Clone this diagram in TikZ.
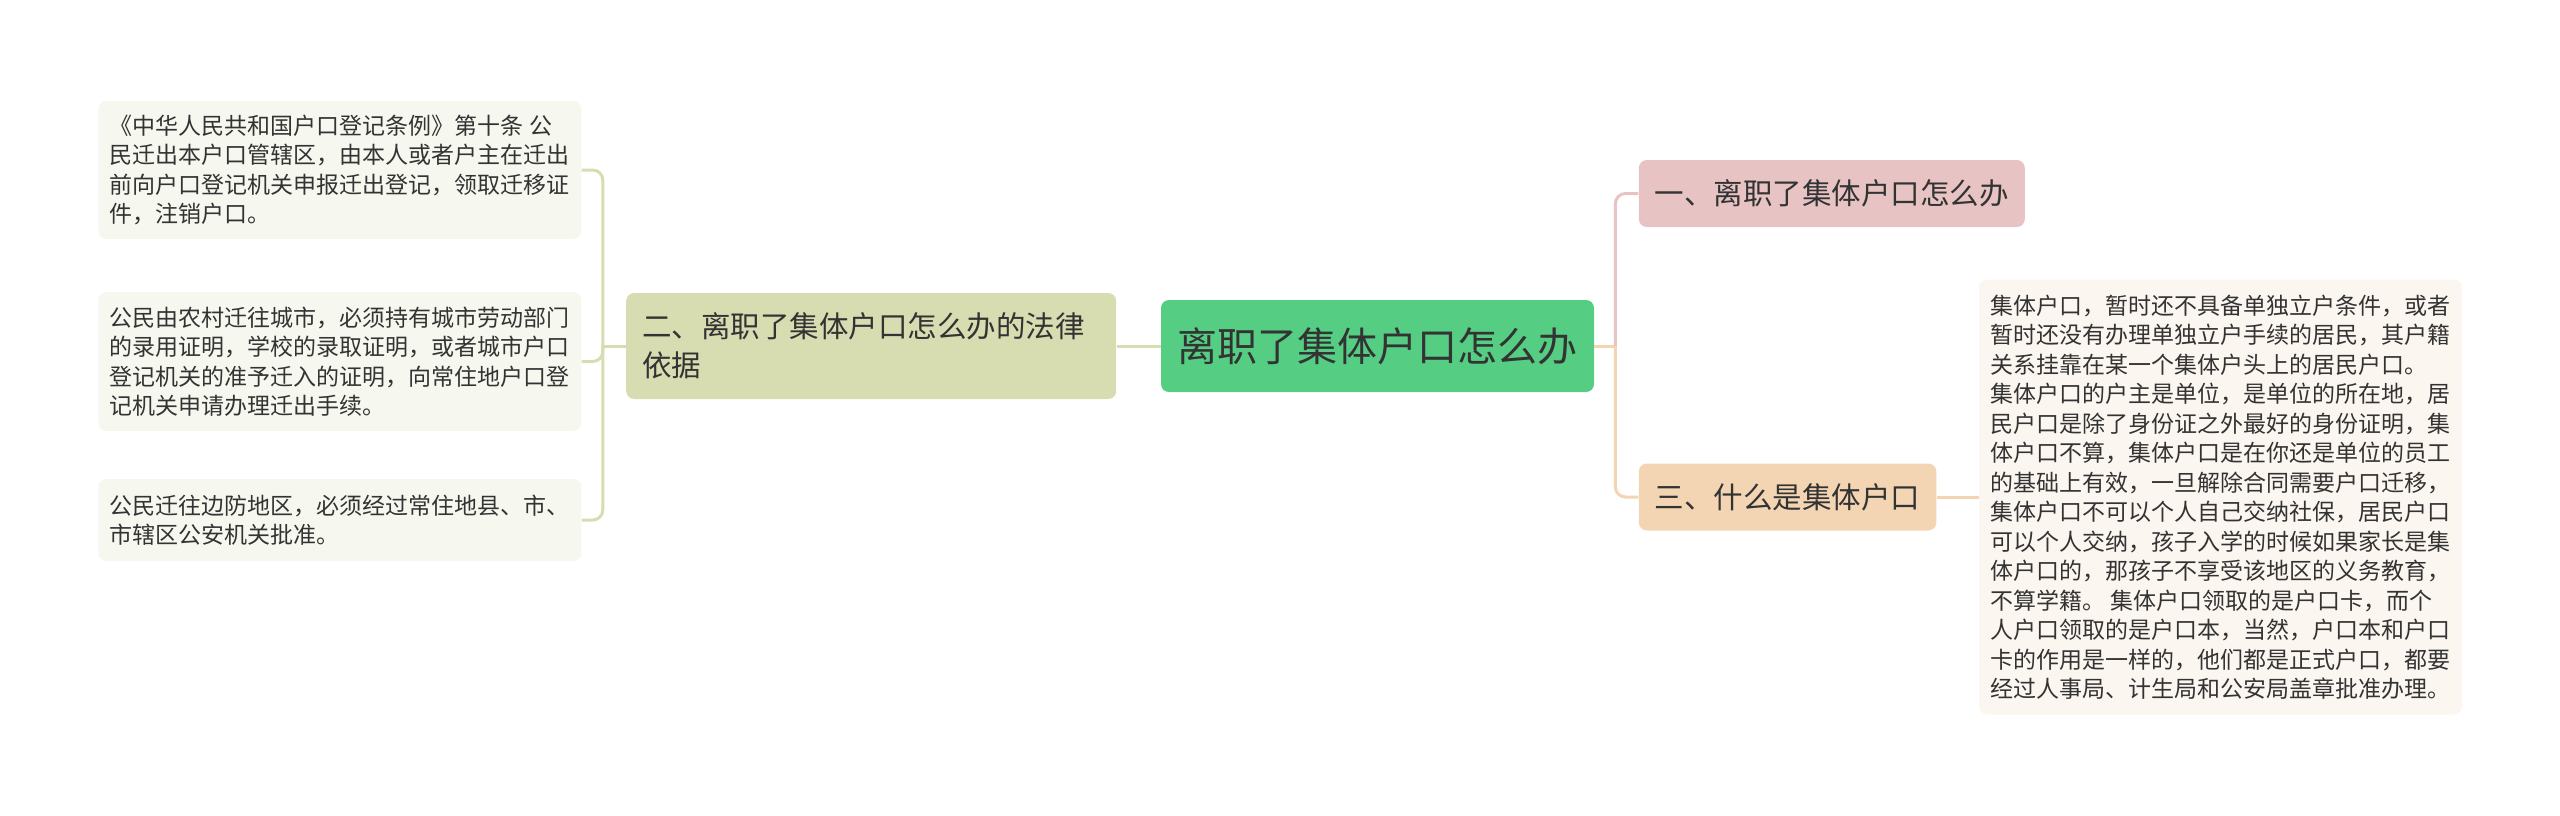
\documentclass[tikz,border=0pt]{standalone}
\usepackage{fontspec}
\setmainfont{Noto Sans CJK SC}
\usepackage{xcolor}
\usetikzlibrary{positioning}

\definecolor{rootgreen}{HTML}{55CD82}
\definecolor{lawolive}{HTML}{D8DCB1}
\definecolor{lawleaf}{HTML}{F6F7EF}
\definecolor{howpink}{HTML}{E7C3C3}
\definecolor{whatpeach}{HTML}{F3D5B4}
\definecolor{whatleaf}{HTML}{FCF6F0}
\definecolor{textgray}{HTML}{333333}

\begin{document}
\begin{tikzpicture}[x=1pt, y=1pt,
    box/.style={rounded corners=4pt, inner xsep=8pt, inner ysep=0pt, text=textgray, align=left},
    rootbox/.style={box, fill=rootgreen, minimum width=216.5pt, minimum height=46pt, font=\fontsize{20pt}{24pt}\selectfont},
    topic/.style={box, fill=#1, minimum height=33.5pt, font=\fontsize{14.75pt}{19.5pt}\selectfont},
    leaf/.style={box, fill=#1, inner xsep=5.75pt, font=\fontsize{11.5pt}{14.75pt}\selectfont},
    link/.style={line width=1.5pt, draw=#1, rounded corners=5pt}]

    \useasboundingbox (0,0) rectangle (1280,-407.5);

    \node[rootbox] (root) at (688.75,-173) {离职了集体户口怎么办};

    \node[topic=lawolive, text width=229pt, minimum height=53pt, left=22pt of root] (law)
        {二、离职了集体户口怎么办的法律\\依据};
    \node[topic=howpink, right=22pt of root, yshift=76.25pt] (how) {一、离职了集体户口怎么办};
    \node[topic=whatpeach, right=22pt of root, yshift=-75.5pt] (what) {三、什么是集体户口};

    \node[leaf=lawleaf, minimum height=69pt, left=22pt of law, yshift=88pt] (rule)
        {《中华人民共和国户口登记条例》第十条 公\\
         民迁出本户口管辖区，由本人或者户主在迁出\\
         前向户口登记机关申报迁出登记，领取迁移证\\
         件，注销户口。};
    \node[leaf=lawleaf, minimum height=69.5pt, left=22pt of law, yshift=-7.75pt] (city)
        {公民由农村迁往城市，必须持有城市劳动部门\\
         的录用证明，学校的录取证明，或者城市户口\\
         登记机关的准予迁入的证明，向常住地户口登\\
         记机关申请办理迁出手续。};
    \node[leaf=lawleaf, minimum height=41pt, left=22pt of law, yshift=-87pt] (border)
        {公民迁往边防地区，必须经过常住地县、市、\\
         市辖区公安机关批准。};

    \node[leaf=whatleaf, minimum height=217.5pt, right=21pt of what] (define)
        {集体户口，暂时还不具备单独立户条件，或者\\
         暂时还没有办理单独立户手续的居民，其户籍\\
         关系挂靠在某一个集体户头上的居民户口。\\
         集体户口的户主是单位，是单位的所在地，居\\
         民户口是除了身份证之外最好的身份证明，集\\
         体户口不算，集体户口是在你还是单位的员工\\
         的基础上有效，一旦解除合同需要户口迁移，\\
         集体户口不可以个人自己交纳社保，居民户口\\
         可以个人交纳，孩子入学的时候如果家长是集\\
         体户口的，那孩子不享受该地区的义务教育，\\
         不算学籍。 集体户口领取的是户口卡，而个\\
         人户口领取的是户口本，当然，户口本和户口\\
         卡的作用是一样的，他们都是正式户口，都要\\
         经过人事局、计生局和公安局盖章批准办理。};

    \coordinate[left=11.5pt of law] (lawjoin);
    \coordinate[right=10.5pt of root] (rootjoin);

    \draw[link=lawolive] (root) -- (law);
    \draw[link=lawolive] (law) -- (lawjoin);
    \draw[link=lawolive] (lawjoin) |- (rule.east);
    \draw[link=lawolive] (lawjoin) |- (city.east);
    \draw[link=lawolive] (lawjoin) |- (border.east);

    \draw[link=whatpeach] (root) -- (rootjoin);
    \draw[link=howpink] (rootjoin) |- (how.west);
    \draw[link=whatpeach] (rootjoin) |- (what.west);
    \draw[link=whatpeach] (what) -- (define);
\end{tikzpicture}
\end{document}
